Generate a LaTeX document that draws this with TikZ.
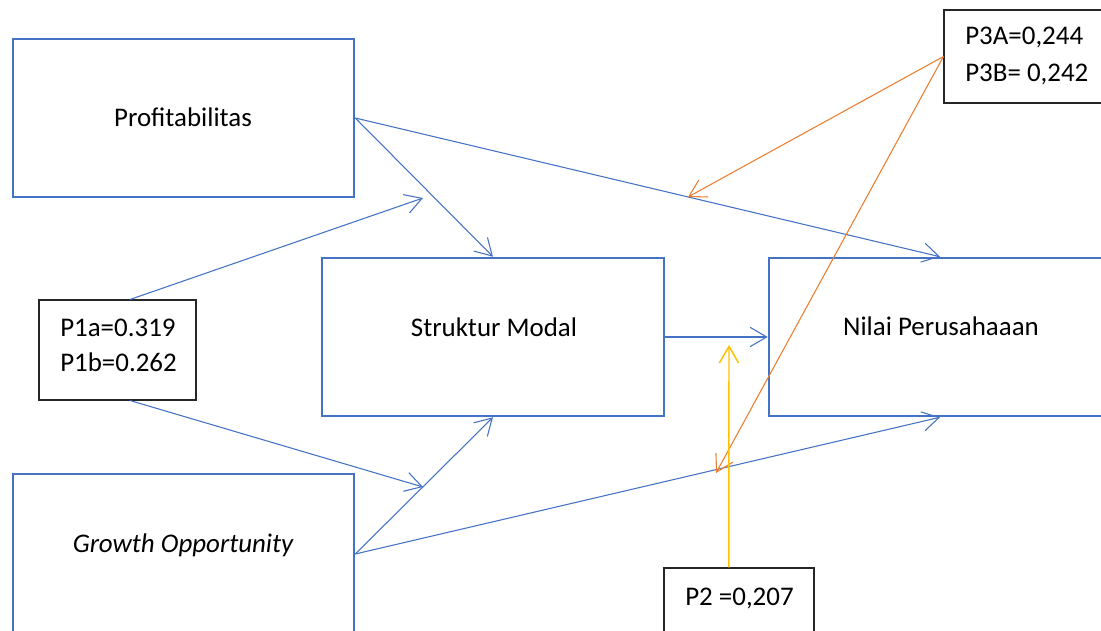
\documentclass[tikz,border=0pt]{standalone}
\usepackage{fontspec}
\setmainfont{Carlito}
\usetikzlibrary{arrows.meta,fit}
\definecolor{boxblue}{HTML}{4472C4}
\definecolor{accorange}{HTML}{ED7D31}
\definecolor{accgold}{HTML}{FFC000}

\begin{document}
\begin{tikzpicture}[x=0.75pt,y=-0.75pt,
  varbox/.style={draw=boxblue,line width=1.9pt,rectangle,inner sep=0pt},
  coefbox/.style={draw=black!85,line width=0.8pt,rectangle,inner sep=0pt},
  lbl/.style={font=\fontsize{20.2}{24}\selectfont,inner sep=0pt},
  barb/.style={-{Straight Barb[length=12.4pt,width=14.5pt]}},
  link/.style={draw=boxblue,line width=0.8pt,barb},
  orangelink/.style={draw=accorange,line width=0.8pt,barb},
  goldlink/.style={draw=accgold,line width=1.1pt,barb},
]
\useasboundingbox (0,0) rectangle (1101,631);
\clip (0,0) rectangle (1101,631);

% variable boxes
\node[varbox,fit={(13,39) (354,197)}] (pr) {};
\node[varbox,fit={(13,474) (354,636)}] (go) {};
\node[varbox,fit={(322,258) (664,416)}] (sm) {};
\node[varbox,fit={(769,258) (1111,416)}] (np) {};

% coefficient boxes
\node[coefbox,fit={(39,300) (196,400)}] (p1) {};
\node[coefbox,fit={(944,10) (1108,103)}] (p3) {};
\node[coefbox,fit={(664,568) (814,640)}] (p2) {};

% texts
\node[lbl,anchor=base] (tpr) at (183,127) {Profitabilitas};
\node[lbl,anchor=base,font=\fontsize{20.2}{24}\selectfont\itshape] (tgo) at (183,552) {Growth Opportunity};
\node[lbl,anchor=base] (tsm) at (494,337) {Struktur Modal};
\node[lbl,anchor=base] (tnp) at (941,336) {Nilai Perusahaaan};
\node[lbl,anchor=base west] (tp1a) at (60,337) {P1a=0.319};
\node[lbl,anchor=base west] (tp1b) at (60,372) {P1b=0.262};
\node[lbl,anchor=base west] (tp3a) at (965,45) {P3A=0,244};
\node[lbl,anchor=base west] (tp3b) at (965,82) {P3B= 0,242};
\node[lbl,anchor=base west] (tp2) at (685,605) {P2 =0,207};

% free ends of the coefficient pointers
\coordinate (p1up) at (423,198);
\coordinate (p1dn) at (423,487);
\coordinate (p3up) at (688,197);
\coordinate (p3dn) at (716,473);
\coordinate (p2up) at (729,345);

% direct paths
\draw[link] (pr.east) -- (np.north);
\draw[link] (pr.east) -- (sm.north);
\draw[link] ([yshift=0.75pt]go.east) -- (sm.south);
\draw[link] ([yshift=0.75pt]go.east) -- (np.south);
\draw[link] (sm.east) -- (np.west);

% coefficient pointers
\draw[link] ([xshift=9.4pt]p1.north) -- (p1up);
\draw[link] ([xshift=9.4pt]p1.south) -- (p1dn);
\draw[orangelink] (p3.west) -- (p3up);
\draw[orangelink] (p3.west) -- (p3dn);
\draw[goldlink] ([xshift=-7.6pt]p2.north) -- (p2up);
\end{tikzpicture}
\end{document}
